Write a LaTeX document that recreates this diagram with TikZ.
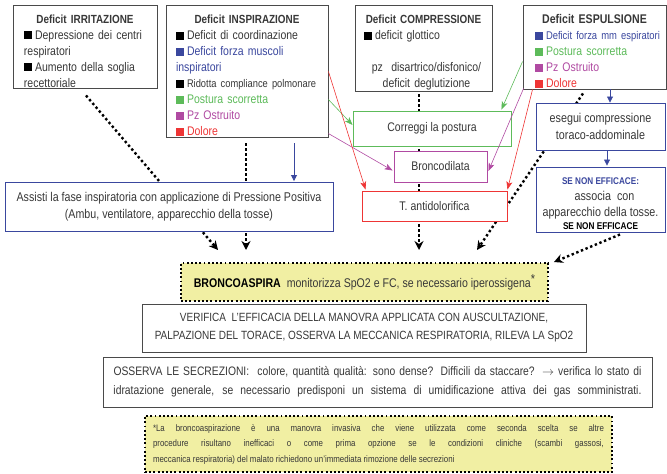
\documentclass[tikz,border=0pt]{standalone}
\usepackage{fontspec}
\setmainfont{Liberation Sans}[FakeStretch=0.84]
\usetikzlibrary{arrows.meta,calc,backgrounds}
\definecolor{ink}{HTML}{383838}
\definecolor{frame}{HTML}{4A4A4A}
\definecolor{cgreen}{HTML}{5DBB5A}
\definecolor{cmag}{HTML}{B04AA2}
\definecolor{cred}{HTML}{EE3535}
\definecolor{cblue}{HTML}{3A479E}
\definecolor{pale}{HTML}{F1EFA3}
\newcommand{\bsq}[1]{\textcolor{#1}{\rule{8pt}{8pt}}\hspace{3pt}}
\newcommand{\fullc}[1]{\makebox[\linewidth]{\rule{0pt}{18pt}#1}}
\newcommand{\spreadline}[1]{\makebox[528pt][s]{#1}}
\newcommand{\fs}[1]{\fontsize{#1}{16}\selectfont}
\begin{document}
\begin{tikzpicture}[x=1pt,y=-1pt,
  every node/.style={font=\fontsize{12.5}{16}\selectfont, text=ink},
  frm/.style={draw=frame, line width=0.9pt, fill=white, inner xsep=6pt, inner ysep=0pt},
  dotbox/.style={draw=black, line width=1.9pt, dash pattern=on 1.9pt off 2.3pt, fill=pale, inner xsep=8pt, inner ysep=0pt},
  dots/.style={draw=black, line width=2.4pt, dash pattern=on 2.4pt off 2.6pt, -{Stealth[length=9pt,width=9pt]}},
  thinarr/.style={line width=0.6pt, -{Stealth[length=8pt,width=6pt,inset=2pt]}},
  bluearr/.style={draw=cblue, line width=0.8pt, -{Triangle[length=6pt,width=6pt]}},
]
\useasboundingbox (0,0) rectangle (667,474);

% ---- top row: the four deficits
\node[frm, inner xsep=11pt, minimum width=144pt, minimum height=83pt, text width=122pt, align=left] (irr) at (85,46.5)
 {\fullc{\fs{11.8}\bfseries Deficit IRRITAZIONE}\\
  \mbox{\bsq{black}Depressione dei centri}\\respiratori\\
  \bsq{black}Aumento della soglia\\recettoriale};

\node[frm, inner xsep=10pt, minimum width=162pt, minimum height=132pt, text width=142pt, align=left] (insp) at (247,71)
 {\fullc{\fs{11.8}\bfseries Deficit INSPIRAZIONE}\\
  \bsq{black}Deficit di coordinazione\\
  \textcolor{cblue}{\bsq{cblue}Deficit forza muscoli}\\\textcolor{cblue}{inspiratori}\\
  \mbox{\bsq{black}{\fs{11.1}Ridotta compliance polmonare}}\\
  \textcolor{cgreen}{\bsq{cgreen}Postura scorretta}\\
  \textcolor{cmag}{\bsq{cmag}Pz Ostruito}\\
  \textcolor{cred}{\bsq{cred}Dolore}};

\node[frm, inner xsep=9pt, minimum width=137pt, minimum height=86pt, text width=119pt, align=left] (comp) at (423.5,48)
 {\fullc{\fs{11.8}\bfseries Deficit COMPRESSIONE}\\
  \bsq{black}deficit glottico\\[16pt]
  \makebox[\linewidth]{\hspace{6pt}pz\ \ disartrico/disfonico/}\\
  \makebox[\linewidth]{\hspace{6pt}deficit deglutizione}};

\node[frm, inner xsep=12pt, minimum width=143pt, minimum height=84pt, text width=119pt, align=left] (esp) at (594.5,47)
 {\fullc{\fs{12.6}\bfseries Deficit ESPULSIONE}\\
  \mbox{\textcolor{cblue}{\bsq{cblue}{\fs{11.2}Deficit forza mm espiratori}}}\\
  \textcolor{cgreen}{\bsq{cgreen}Postura scorretta}\\
  \textcolor{cmag}{\bsq{cmag}Pz Ostruito}\\
  \textcolor{cred}{\bsq{cred}Dolore}};

% ---- treatments
\node[frm, draw=cgreen, minimum width=158pt, minimum height=35pt] (post) at (432,128.5) {Correggi la postura};
\node[frm, draw=cmag, minimum width=93pt, minimum height=31pt] (bron) at (440.5,166.5) {Broncodilata};
\node[frm, draw=cred, minimum width=145pt, minimum height=30pt] (anti) at (434.5,206) {T. antidolorifica};

\node[frm, draw=cblue, minimum width=129pt, minimum height=47pt, align=center, font=\fontsize{12.8}{17}\selectfont] (comp2) at (600.5,126.5)
 {esegui compressione\\toraco-addominale};
\node[frm, draw=cblue, minimum width=129pt, minimum height=65pt, align=center, font=\fontsize{12.8}{16}\selectfont] (cough) at (600.5,199.5)
 {\rule{0pt}{15pt}{\fontsize{9.7}{13}\selectfont\bfseries\textcolor{cblue}{SE NON EFFICACE:}}\\
  \hspace{8pt}associa\ \ con\\apparecchio della tosse.\\[-3pt]
  {\fontsize{9.8}{12}\selectfont\bfseries\color{black}SE NON EFFICACE}};

\node[frm, draw=cblue, minimum width=328pt, minimum height=49pt, align=center, font=\fontsize{12.7}{17}\selectfont] (assist) at (169,207)
 {Assisti la fase inspiratoria con applicazione di Pressione Positiva\\
  (Ambu, ventilatore, apparecchio della tosse)};

% ---- bottom column
\node[dotbox, minimum width=367pt, minimum height=38pt, font=\fontsize{12.6}{16}\selectfont] (suct) at (364.5,282)
 {{\bfseries\color{black}BRONCOASPIRA}\ \ monitorizza SpO2 e FC, se necessario iperossigena\raisebox{4pt}{\fontsize{13}{13}\selectfont *}};

\node[frm, minimum width=444pt, minimum height=48pt, align=center, font=\fontsize{11.9}{18}\selectfont] (check) at (364,328)
 {VERIFICA\ \ L'EFFICACIA DELLA MANOVRA APPLICATA CON AUSCULTAZIONE,\\
  PALPAZIONE DEL TORACE, OSSERVA LA MECCANICA RESPIRATORIA, RILEVA LA SpO2};

\node[frm, minimum width=549pt, minimum height=50pt, align=left, font=\fontsize{12.3}{19}\selectfont] (secr) at (377.5,382)
 {\spreadline{OSSERVA LE SECREZIONI:\ \ colore, quantità qualità: sono dense? Difficili da staccare? $\rightarrow$ verifica lo stato di}\\
  \spreadline{idratazione generale, se necessario predisponi un sistema di umidificazione attiva dei gas somministrati.}};

\node[dotbox, minimum width=467pt, minimum height=56pt] (note) at (378.5,444) {};
\node[anchor=north, text width=451pt, align=justify, inner sep=0pt, font=\fontsize{9.4}{15.5}\selectfont] (noteText) at ($(note.north)+(0,9)$)
 {*La broncoaspirazione è una manovra invasiva che viene utilizzata come seconda scelta se altre\linebreak procedure risultano inefficaci o come prima opzione se le condizioni cliniche (scambi gassosi,\linebreak meccanica respiratoria) del malato richiedono un'immediata rimozione delle secrezioni};

% ---- free ends of the dotted connectors
\coordinate (irrEnd) at (218,250);
\coordinate (inspEnd) at (246,250);
\coordinate (compEnd) at (419,250);
\coordinate (espEnd) at (477,250);

\begin{scope}[on background layer]
  \draw[dots] ($(irr.south)+(1,7)$) -- (irrEnd);
  \draw[dots] ($(insp.south)+(-1,6)$) -- (inspEnd);
  \draw[dots] ($(comp.south)+(-4.5,3)$) -- (compEnd);
  \draw[dots] ($(esp.south)+(-11.5,4)$) -- (espEnd);
\end{scope}
\draw[dots] ($(cough.south)+(19.5,2)$) -- ($(suct.north east)+(5,0)$);

% ---- coloured links from the deficits to the treatments
\draw[thinarr, cgreen] ($(insp.north east)+(0,95)$) -- ($(post.west)+(0,-3.5)$);
\draw[thinarr, cgreen] ($(esp.north west)+(0,57)$) -- ($(post.north east)+(-10,-1)$);
\draw[thinarr, cmag] ($(insp.north east)+(0,129)$) -- ($(bron.west)+(-1,4)$);
\draw[thinarr, cmag] ($(esp.south west)+(1,-1)$) -- ($(bron.east)+(1,4.5)$);
\draw[thinarr, cred] ($(insp.north east)+(0,67)$) -- ($(anti.north west)+(4,-1)$);
\draw[thinarr, cred] ($(esp.south west)+(10,0)$) -- ($(anti.north east)+(0,-1)$);

% ---- blue links
\draw[bluearr] ($(insp.south)+(47,6)$) -- ($(assist.north)+(125,-1)$);
\draw[bluearr] ($(esp.south)+(15.5,0)$) -- ($(comp2.north)+(9.5,0)$);
\draw[bluearr] ($(comp2.south)+(6.5,0)$) -- ($(cough.north)+(6.5,-1)$);
\end{tikzpicture}
\end{document}
